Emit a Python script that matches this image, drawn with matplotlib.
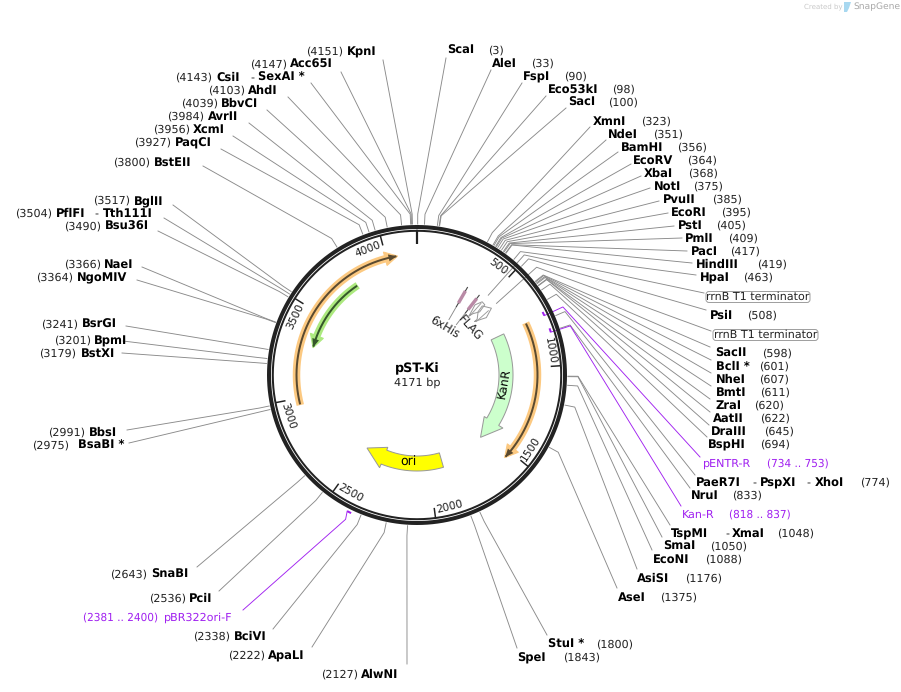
import numpy as np
import matplotlib
matplotlib.use("Agg")
import matplotlib.pyplot as plt
from matplotlib.patches import FancyBboxPatch, Polygon

plt.rcParams['font.family'] = ['DejaVu Sans']
plt.rcParams['text.hinting'] = 'no_hinting'

# ---------- data ----------
plasmid_name = "pST-Ki"
plasmid_len = 4171
tick_bp = [500, 1000, 1500, 2000, 2500, 3000, 3500, 4000]

site_names = ["ScaI","AleI","FspI","Eco53kI","SacI","XmnI","NdeI","BamHI","EcoRV","XbaI","NotI","PvuII",
              "EcoRI","PstI","PmlI","PacI","HindIII","HpaI","PsiI","SacII","BclI *","NheI","BmtI","ZraI",
              "AatII","DraIII","BspHI","PaeR7I","NruI","TspMI","SmaI","EcoNI","AsiSI","AseI","StuI *","SpeI",
              "AlwNI","ApaLI","BciVI","PciI","SnaBI","BsaBI *","BbsI","BstXI","BpmI","BsrGI","NgoMIV","NaeI",
              "Bsu36I","PflFI","BglII","BstEII","PaqCI","XcmI","AvrII","BbvCI","AhdI","CsiI","Acc65I","KpnI"]
site_bp = [3,33,90,98,100,323,351,356,364,368,375,385,395,405,409,417,419,463,508,598,601,607,611,620,
           622,645,694,774,833,1048,1050,1088,1176,1375,1800,1843,2127,2222,2338,2536,2643,2975,2991,3179,
           3201,3241,3364,3366,3490,3504,3517,3800,3927,3956,3984,4039,4103,4143,4147,4151]

primer_names = ["pENTR-R", "Kan-R", "pBR322ori-F"]
primer_start = [734, 818, 2381]
primer_end = [753, 837, 2400]

term_name = "rrnB T1 terminator"
term_bp = [484, 556]

orange_start = [746, 2961]
orange_end = [1541, 4060]
green_start = [3783]
green_end = [3302]
kan_name, kan_start, kan_head, kan_end = "KanR", 749, 1410, 1558
ori_name, ori_start, ori_head, ori_end = "ori", 1900, 2340, 2484
small_names = ["6xHis", "FLAG"]
small_bp = [347, 440]

# ---------- layout (pixels) ----------
W, H = 901, 692
CX, CY = 417, 375

label_x = [447,492,523,548,568,593,608,621,633,644,654,663,671,678,685,691,696,700,710,715,716,716,716,715,
           713,711,708,696,691,671,663,653,637,618,548,517,361,268,234,189,151,78,89,81,94,82,77,104,
           105,56,134,154,175,193,208,221,248,216,290,347]
label_y = [51,64,77,90,103,122,135,148,161,174,187,200,213,226,239,252,265,278,316,354,367,380,393,406,
           419,432,445,483,496,534,547,560,579,598,645,658,675,656,637,599,575,446,433,354,341,325,278,265,
           227,214,201,163,143,130,117,104,91,78,65,52]
pos_x = [488,531,564,612,608,641,653,677,687,688,693,712,721,716,728,730,757,743,747,762,759,759,760,754,
         760,764,760,860,732,777,710,705,685,660,596,563,321,228,193,149,110,32,48,39,54,41,36,64,
         64,15,93,113,134,153,167,181,208,175,250,306]
leader_x = [446,491,522,546,566,590,606,618,631,641,650,659,668,674,682,687,692,696,706,710,711,711,711,710,
            710,709,707,695,690,670,662,652,637,617,547,517,407,312,273,219,197,129,127,122,123,126,137,142,
            158,164,173,203,221,233,249,267,288,311,341,383]
leader_y = [58,70,83,96,108,127,140,152,164,176,188,201,213,226,238,251,263,275,310,347,360,373,386,399,
            412,425,437,475,488,525,537,550,569,588,635,648,664,647,629,591,567,443,430,353,341,326,280,267,
            231,218,205,166,149,136,123,110,97,83,72,60]
extra_labels = {"PaeR7I": [("PspXI", 760, 752), ("XhoI", 815, 806)],
                "TspMI": [("XmaI", 732, 725)],
                "CsiI": [("SexAI *", 258, 250)],
                "PflFI": [("Tth111I", 103, 94)]}
primer_label_x = [703, 682, 164]
primer_label_y = [464, 515, 618]
primer_pos_x = [767, 729, 83]
primer_leader_x = [700, 681, 243]
primer_leader_y = [457, 506, 610]
term_box_x = [704, 711]
term_box_y = [297, 335]
term_box_w = [108, 109]

NAME_FS = 8.3
POS_FS = 8.0
RANGE_FS = 7.6
GREY = "#8a8a8a"
DARK = "#222222"


def pol(bp, r):
    a = np.asarray(bp, float) / plasmid_len * 2 * np.pi
    return CX + r * np.sin(a), CY - r * np.cos(a)


def px(w):
    return w * 0.72


fig = plt.figure(figsize=(W / 100, H / 100), dpi=100)
ax = fig.add_axes([0, 0, 1, 1])
ax.set_xlim(0, W)
ax.set_ylim(H, 0)
ax.axis("off")


def leader(bp, ex, ey, color=GREY, r0=151, r1=161, lw=0.9):
    x0, y0 = pol(bp, r0)
    x1, y1 = pol(bp, r1)
    ax.plot([x0, x1, ex], [y0, y1, ey], color=color, lw=px(lw), solid_joinstyle="miter", zorder=1)


# leaders and labels
for i, name in enumerate(site_names):
    leader(site_bp[i], leader_x[i], leader_y[i])
    ax.text(label_x[i], label_y[i], name, fontsize=NAME_FS, fontweight="bold", color="black", va="center", ha="left")
    ax.text(pos_x[i], label_y[i], f"({site_bp[i]})", fontsize=POS_FS, color=DARK, va="center", ha="left")
    for nm, nx, dx in extra_labels.get(name, []):
        ax.text(dx, label_y[i], "-", fontsize=POS_FS, color=DARK, va="center", ha="left")
        ax.text(nx, label_y[i], nm, fontsize=NAME_FS, fontweight="bold", color="black", va="center", ha="left")

# ring
th = np.linspace(0, plasmid_len, 721)
ax.plot(*pol(th, 148.0), color=DARK, lw=px(4.0), zorder=4)
ax.plot(*pol(th, 144.2), color=DARK, lw=px(2.0), zorder=4)

# ticks
for b in tick_bp:
    x, y = pol([b, b], [144, 134])
    ax.plot(x, y, color=DARK, lw=px(1.5), zorder=4, solid_capstyle="butt")
    ang = b / plasmid_len * 360 - 6.5
    rot = 180 - ang if 90 < ang < 270 else (360 - ang if ang > 270 else -ang)
    lx, ly = pol(ang / 360 * plasmid_len, 135.5)
    ax.text(lx, ly, str(b), fontsize=7.7, color=DARK, rotation=rot, rotation_mode="anchor", ha="center", va="center")
x, y = pol([0, 0], [145, 131])
ax.plot(x, y, color=DARK, lw=px(2.2), zorder=4, solid_capstyle="butt")

# centre
ax.text(CX, 369, plasmid_name, fontsize=9.2, fontweight="bold", color="black", ha="center", va="center")
ax.text(CX, 383, f"{plasmid_len} bp", fontsize=8.1, color=DARK, ha="center", va="center")


def arc_line(b0, b1, r, halo, core):
    """Thin arrow with a pale halo; b0 -> b1 in either direction."""
    sgn = np.sign(b1 - b0)
    head = 12 / (2 * np.pi * r) * plasmid_len
    bs = np.linspace(b0, b1 - sgn * head * 0.55, 200)
    ax.plot(*pol(bs, r), color=halo, lw=px(7.5), solid_capstyle="butt", zorder=2)
    hx = np.array([pol(b1 - sgn * head, r - 7), pol(b1 + sgn * 4, r), pol(b1 - sgn * head, r + 7)])
    ax.add_patch(Polygon(hx, closed=True, fc=halo, ec=halo, lw=px(1), zorder=2))
    bs = np.linspace(b0 + sgn * 4, b1 - sgn * 4, 200)
    ax.plot(*pol(bs, r), color=core, lw=px(2.0), solid_capstyle="butt", zorder=3)
    hx = np.array([pol(b1 - sgn * head * 0.7, r - 3.5), pol(b1, r), pol(b1 - sgn * head * 0.7, r + 3.5)])
    ax.add_patch(Polygon(hx, closed=True, fc=core, ec="none", zorder=3))


for s, e in zip(orange_start, orange_end):
    arc_line(s, e, 120.5, "#fcc981", "#5a4a30")
for s, e in zip(green_start, green_end):
    arc_line(s, e, 107.5, "#ace97f", "#35562a")


def arc_arrow(b0, bh, b1, r_in, r_out, h_in, h_out, fc):
    bs = np.linspace(b0, bh, 100)
    xo, yo = pol(bs, r_out)
    xi, yi = pol(bs[::-1], r_in)
    hx0, hy0 = pol(bh, h_out)
    hx1, hy1 = pol(b1, (r_in + r_out) / 2)
    hx2, hy2 = pol(bh, h_in)
    xs = np.r_[xo, hx0, hx1, hx2, xi]
    ys = np.r_[yo, hy0, hy1, hy2, yi]
    ax.add_patch(Polygon(np.c_[xs, ys], closed=True, fc=fc, ec="#999999", lw=px(1.0), zorder=2))


arc_arrow(kan_start, kan_head, kan_end, 82, 96, 79, 101, "#ccffcc")
arc_arrow(ori_start, ori_head, ori_end, 81, 96, 78, 100, "#ffff00")
ax.text(504, 383, kan_name, fontsize=8.6, color="black", rotation=80, ha="center", va="center", zorder=5)
ax.text(408, 462, ori_name, fontsize=9, color="black", ha="center", va="center", zorder=5)

# small features 6xHis / FLAG
for b, nm, lbl, rot in zip(small_bp, small_names, [(445, 327), (469, 329)], [-31, -48]):
    x, y = pol([b, b], [79, 101])
    ax.plot(x, y, color="#444444", lw=px(1.1), zorder=2)
    x, y = pol([b, b], [83, 97])
    ax.plot(x, y, color="#b98aa6", lw=px(3.4), zorder=3, solid_capstyle="butt")
    x, y = pol([b, b], [64, 79])
    ax.plot(x, y, color=GREY, lw=px(0.9), zorder=1)
    ax.text(lbl[0], lbl[1], nm, fontsize=8.3, color=DARK, rotation=rot, rotation_mode="anchor", ha="center", va="center")

# terminators
glyph_a = [(-0.4, 79), (-2.2, 91), (-0.1, 98), (2.2, 97.6), (3.0, 89), (0.6, 83)]
glyph_b = [(-0.8, 79), (2.4, 90), (0.1, 100), (-4.6, 95), (-4.0, 88), (-0.8, 82)]
for b, gl in zip(term_bp, [glyph_a, glyph_b]):
    d = np.array(gl)
    x, y = pol(b + d[:, 0] / 360 * plasmid_len, d[:, 1])
    ax.plot(np.r_[x, x[0]], np.r_[y, y[0]], color="#9a9a9a", lw=px(1), zorder=2)
    x, y = pol([b, b], [80, 96])
    ax.plot(x, y, color="#9a9a9a", lw=px(0.9), zorder=2)
for b, bx, by, bw in zip(term_bp, term_box_x, term_box_y, term_box_w):
    x0, y0 = pol(b, 107)
    x1, y1 = pol(b, 161)
    ax.plot([x0, x1, bx], [y0, y1, by - 4], color=GREY, lw=px(0.9), zorder=1)
    ax.add_patch(FancyBboxPatch((bx + 2, by - 5.5), bw - 4, 11, boxstyle="round,pad=0,rounding_size=3",
                                fc="white", ec="#a0a0a0", lw=px(1), zorder=2, mutation_aspect=1))
    ax.text(bx + bw / 2, by, term_name, fontsize=8.0, color=DARK, ha="center", va="center", zorder=3)

# primers
PURPLE = "#a020f0"
for i, nm in enumerate(primer_names):
    outer = primer_start[i] > 2000
    r = 153 if outer else 140.5
    bs = np.linspace(primer_start[i], primer_end[i], 8)
    ax.plot(*pol(bs, r), color=PURPLE, lw=px(2), zorder=5, solid_capstyle="butt")
    mid = (primer_start[i] + primer_end[i]) / 2
    x0, y0 = pol(primer_end[i], r)
    x1, y1 = pol(primer_end[i] if not outer else mid, 161)
    ax.plot([x0, x1, primer_leader_x[i]], [y0, y1, primer_leader_y[i]], color=PURPLE, lw=px(0.9), zorder=5 if outer else 3)
    ax.text(primer_label_x[i], primer_label_y[i], nm, fontsize=POS_FS, color=PURPLE, va="center", ha="left")
    ax.text(primer_pos_x[i], primer_label_y[i], f"({primer_start[i]} .. {primer_end[i]})", fontsize=RANGE_FS,
            color=PURPLE, va="center", ha="left")

# logo
ax.text(804, 7, "Created by", fontsize=5.0, color="#c8c8c8", va="center", ha="left")
ax.add_patch(Polygon([(844, 2), (851, 2), (849, 8), (847, 12), (844, 12)], closed=True, fc="#a8d8f0", ec="none"))
ax.text(853, 7, "SnapGene", fontsize=6.6, color="#a8a8a8", va="center", ha="left")

fig.savefig("out.png", dpi=100)
